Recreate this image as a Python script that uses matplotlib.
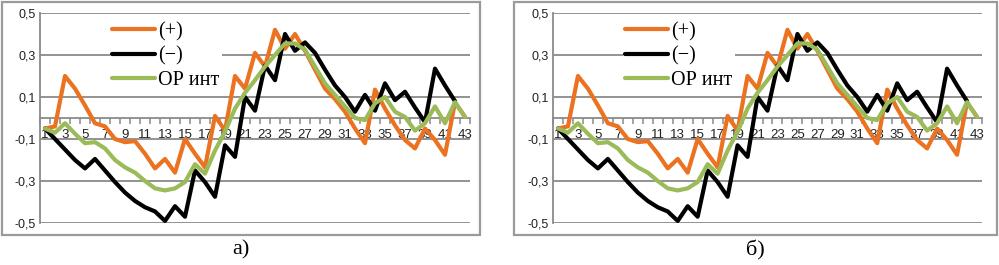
import numpy as np
import matplotlib
matplotlib.use("Agg")
import matplotlib.pyplot as plt
from matplotlib.patches import Rectangle

categories = list(range(1, 44))
plus_vals = [-0.05, -0.04, 0.20, 0.14, 0.06, -0.025, -0.04, -0.10, -0.115, -0.11,
             -0.17, -0.24, -0.195, -0.26, -0.10, -0.17, -0.235, 0.01, -0.06, 0.20,
             0.14, 0.31, 0.245, 0.42, 0.33, 0.40, 0.32, 0.23, 0.14, 0.09,
             0.03, -0.05, -0.12, 0.135, 0.045, -0.035, -0.105, -0.145, -0.05, -0.105,
             -0.175, 0.075, 0.005]
minus_vals = [-0.05, -0.10, -0.15, -0.20, -0.24, -0.195, -0.25, -0.305, -0.355, -0.395,
              -0.425, -0.445, -0.49, -0.42, -0.47, -0.25, -0.305, -0.375, -0.13, -0.185,
              0.10, 0.035, 0.25, 0.18, 0.40, 0.32, 0.36, 0.31, 0.23, 0.155,
              0.10, 0.03, 0.11, 0.035, 0.165, 0.085, 0.125, 0.05, -0.02, 0.235,
              0.155, 0.08, np.nan]
op_vals = [-0.05, -0.07, -0.025, -0.075, -0.12, -0.115, -0.145, -0.20, -0.235, -0.26,
           -0.30, -0.335, -0.345, -0.335, -0.305, -0.22, -0.265, -0.155, -0.065, 0.045,
           0.12, 0.18, 0.245, 0.30, 0.355, 0.355, 0.325, 0.245, 0.165, 0.11,
           0.055, 0.0, -0.01, 0.07, 0.10, 0.03, 0.005, -0.06, -0.025, 0.055,
           -0.025, 0.075, 0.005]
series_labels = ["(+)", "(\u2212)", "ОР инт"]
series_colors = ["#EB7221", "#000000", "#9BBB59"]
ytick_vals = [-0.5, -0.3, -0.1, 0.1, 0.3, 0.5]
ytick_labels = ["-0,5", "-0,3", "-0,1", "0,1", "0,3", "0,5"]
panel_captions = ["а)", "б)"]

W, H = 999, 265
fig = plt.figure(figsize=(W / 100, H / 100), dpi=100)
GRAY = "#8a8a8a"


def px_rect(x0, y0, x1, y1):
    return [x0 / W, 1 - y1 / H, (x1 - x0) / W, (y1 - y0) / H]


def draw_panel(box, plot, caption):
    bx0, by0, bx1, by1 = box
    fig.patches.append(Rectangle((bx0 / W, 1 - by1 / H), (bx1 - bx0) / W, (by1 - by0) / H,
                                 transform=fig.transFigure, fill=False,
                                 edgecolor="#9a9a9a", linewidth=1.6))
    ax = fig.add_axes(px_rect(*plot))
    x = np.array(categories)
    for vals, lab, col in zip([plus_vals, minus_vals, op_vals], series_labels, series_colors):
        ax.plot(x, vals, color=col, lw=3.0, label=lab, solid_joinstyle="round",
                solid_capstyle="round", zorder=3)
    ax.set_xlim(0.5, 43.5)
    ax.set_ylim(-0.5, 0.5)
    ax.set_yticks(ytick_vals)
    ax.set_yticklabels(ytick_labels, fontsize=9, family="Liberation Sans", color="#222222")
    ax.tick_params(axis="y", length=0, pad=3)
    for v in ytick_vals:
        ax.axhline(v, color=GRAY, lw=1.3, zorder=1)
    for s in ["top", "right"]:
        ax.spines[s].set_visible(False)
    ax.spines["left"].set_color(GRAY)
    ax.spines["left"].set_linewidth(1.3)
    ax.spines["bottom"].set_position(("data", 0))
    ax.spines["bottom"].set_color(GRAY)
    ax.spines["bottom"].set_linewidth(1.3)
    ax.spines["bottom"].set_zorder(2)
    ax.set_xticks(x[::2])
    ax.set_xticklabels([str(c) for c in categories[::2]], fontsize=9.5,
                       family="Liberation Sans", color="#222222")
    ax.set_xticks(np.arange(0.5, 44.0, 1.0), minor=True)
    ax.tick_params(axis="x", which="major", length=0, pad=8)
    ax.tick_params(axis="x", which="minor", length=4, width=1.1, color=GRAY, direction="out")
    leg = ax.legend(loc="upper left", bbox_to_anchor=(0.163, 0.967), frameon=True,
                    prop={"family": "Liberation Serif", "size": 14.5},
                    handlelength=2.15, handletextpad=0.15, labelspacing=0.27,
                    borderpad=0.1, borderaxespad=0, fancybox=False)
    leg.get_frame().set_facecolor("white")
    leg.get_frame().set_edgecolor("none")
    leg.get_frame().set_alpha(1)
    leg.set_zorder(5)
    cx = (bx0 + bx1) / 2 / W
    fig.text(cx, 1 - 250 / H, caption, ha="center", va="center",
             family="Liberation Serif", fontsize=16)


draw_panel((2, 2, 480, 235), (40, 13, 470, 223), panel_captions[0])
draw_panel((514, 2, 997, 235), (553, 13, 982, 223), panel_captions[1])

fig.savefig("out.png", dpi=100)
